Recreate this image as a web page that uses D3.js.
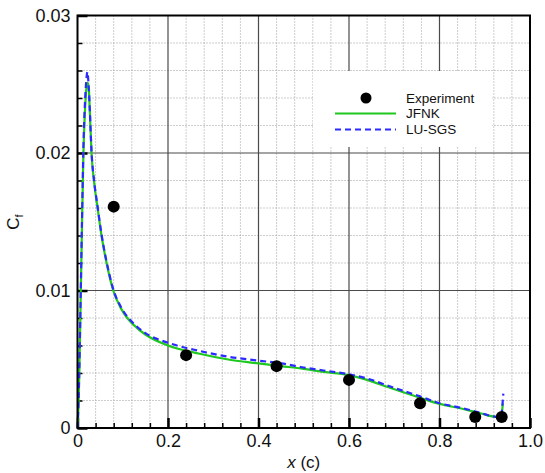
<!DOCTYPE html>
<html>
<head>
<meta charset="utf-8">
<script src="https://cdn.jsdelivr.net/npm/d3@7"></script>
<style>
  html, body { margin: 0; padding: 0; background: #fff; }
  svg { display: block; font-family: "Liberation Sans", Arial, sans-serif; }
</style>
</head>
<body>
<svg id="chart" width="545" height="473"></svg>
<script>
// Skin-friction coefficient along the chord
const expX = [0.08, 0.24, 0.44, 0.60, 0.757, 0.879, 0.9375];
const expCf = [0.0161, 0.0053, 0.0045, 0.0035, 0.0018, 0.0008, 0.0008];

const jfnkX = [0, 0.002, 0.004, 0.007, 0.010, 0.013, 0.017, 0.020, 0.0225, 0.025, 0.027, 0.031, 0.037, 0.044, 0.053, 0.063, 0.079, 0.096, 0.11, 0.124, 0.15, 0.2, 0.27, 0.33, 0.4, 0.45, 0.5, 0.54, 0.6, 0.64, 0.684, 0.72, 0.757, 0.8, 0.85, 0.89, 0.926, 0.936, 0.938, 0.940];
const jfnkCf = [0, 0.0015, 0.0040, 0.0093, 0.0148, 0.0198, 0.0234, 0.0248, 0.0251, 0.0247, 0.0232, 0.0200, 0.0178, 0.0161, 0.0140, 0.0122, 0.0100, 0.0087, 0.0080, 0.0075, 0.0068, 0.0060, 0.0054, 0.0050, 0.0047, 0.0045, 0.0043, 0.0041, 0.00385, 0.0035, 0.0030, 0.0026, 0.0022, 0.00175, 0.0014, 0.00107, 0.0008, 0.00078, 0.0011, 0.0018];

const lusgsX = [0, 0.002, 0.004, 0.007, 0.010, 0.013, 0.017, 0.020, 0.022, 0.024, 0.027, 0.031, 0.037, 0.044, 0.053, 0.063, 0.079, 0.096, 0.11, 0.124, 0.15, 0.2, 0.27, 0.33, 0.4, 0.45, 0.5, 0.54, 0.6, 0.64, 0.684, 0.72, 0.757, 0.8, 0.85, 0.89, 0.926, 0.936, 0.938, 0.941];
const lusgsCf = [0, 0.0016, 0.0042, 0.0096, 0.0152, 0.0203, 0.0240, 0.0255, 0.0259, 0.0252, 0.0233, 0.0201, 0.0179, 0.0162, 0.0141, 0.0123, 0.0101, 0.0088, 0.0081, 0.0076, 0.0069, 0.0062, 0.0056, 0.0052, 0.0049, 0.0047, 0.0044, 0.0042, 0.0039, 0.0036, 0.0031, 0.0027, 0.0023, 0.0018, 0.00145, 0.0011, 0.0008, 0.00078, 0.0013, 0.0025];

const xMajor = [0, 0.2, 0.4, 0.6, 0.8, 1.0];
const xMajorLabels = ["0", "0.2", "0.4", "0.6", "0.8", "1.0"];
const yMajor = [0, 0.01, 0.02, 0.03];
const yMajorLabels = ["0", "0.01", "0.02", "0.03"];
const xMinor = [0.04, 0.08, 0.12, 0.16, 0.24, 0.28, 0.32, 0.36, 0.44, 0.48, 0.52, 0.56, 0.64, 0.68, 0.72, 0.76, 0.84, 0.88, 0.92, 0.96];
const yMinor = [0.002, 0.004, 0.006, 0.008, 0.012, 0.014, 0.016, 0.018, 0.022, 0.024, 0.026, 0.028];

const legendItems = ["Experiment", "JFNK", "LU-SGS"];

const L = 77.5, R = 530, T = 15.5, B = 428;
const svg = d3.select("#chart");
const x = d3.scaleLinear().domain([0, 1]).range([L, R]);
const y = d3.scaleLinear().domain([0, 0.03]).range([B, T]);

const green = "#1ec81e", blue = "#2b2bff";

// minor grid (dotted)
const g = svg.append("g");
g.selectAll(".vminor").data(xMinor).join("line")
  .attr("x1", d => x(d)).attr("x2", d => x(d)).attr("y1", T).attr("y2", B)
  .attr("stroke", "#9a9a9a").attr("stroke-width", 1).attr("stroke-dasharray", "1,2");
g.selectAll(".hminor").data(yMinor).join("line")
  .attr("y1", d => y(d)).attr("y2", d => y(d)).attr("x1", L).attr("x2", R)
  .attr("stroke", "#9a9a9a").attr("stroke-width", 1).attr("stroke-dasharray", "1,2");

// major grid (solid)
g.selectAll(".vmajor").data(xMajor.slice(1, -1)).join("line")
  .attr("x1", d => x(d)).attr("x2", d => x(d)).attr("y1", T).attr("y2", B)
  .attr("stroke", "#4a4a4a").attr("stroke-width", 1.2);
g.selectAll(".hmajor").data(yMajor.slice(1, -1)).join("line")
  .attr("y1", d => y(d)).attr("y2", d => y(d)).attr("x1", L).attr("x2", R)
  .attr("stroke", "#4a4a4a").attr("stroke-width", 1.2);

// legend background hides the grid behind it
svg.append("rect").attr("x", 313).attr("y", 71).attr("width", 179).attr("height", 76).attr("fill", "#fff");

// axes: inward ticks on bottom and left
const xAxisMinor = d3.axisBottom(x).tickValues(xMinor).tickSize(-5).tickFormat("");
const xAxisMajor = d3.axisBottom(x).tickValues(xMajor).tickSize(-10).tickPadding(6)
  .tickFormat((d, i) => xMajorLabels[i]);
const yAxisMinor = d3.axisLeft(y).tickValues(yMinor).tickSize(-5).tickFormat("");
const yAxisMajor = d3.axisLeft(y).tickValues(yMajor).tickSize(-10).tickPadding(7)
  .tickFormat((d, i) => yMajorLabels[i]);

function styleAxis(sel, w) {
  sel.select(".domain").remove();
  sel.selectAll(".tick line").attr("stroke", "#000").attr("stroke-width", w);
  sel.selectAll("text").attr("fill", "#111").attr("font-size", 18)
    .attr("font-family", "Liberation Sans, Arial, sans-serif");
}
svg.append("g").attr("transform", `translate(0,${B})`).call(xAxisMinor).call(s => styleAxis(s, 1.5));
svg.append("g").attr("transform", `translate(0,${B})`).call(xAxisMajor).call(s => styleAxis(s, 2.5));
svg.append("g").attr("transform", `translate(${L},0)`).call(yAxisMinor).call(s => styleAxis(s, 1.5));
svg.append("g").attr("transform", `translate(${L},0)`).call(yAxisMajor).call(s => styleAxis(s, 2.5));

// curves
const line = d3.line().x(d => x(d[0])).y(d => y(d[1])).curve(d3.curveMonotoneX);
svg.append("path").datum(jfnkX.map((v, i) => [v, jfnkCf[i]]))
  .attr("d", line).attr("fill", "none").attr("stroke", green).attr("stroke-width", 2.2);
svg.append("path").datum(lusgsX.map((v, i) => [v, lusgsCf[i]]))
  .attr("d", line).attr("fill", "none").attr("stroke", blue).attr("stroke-width", 2.2)
  .attr("stroke-dasharray", "6,4");

// experimental points
svg.selectAll(".exp").data(expX).join("circle")
  .attr("cx", d => x(d)).attr("cy", (d, i) => y(expCf[i])).attr("r", 6).attr("fill", "#000");

// frame
svg.append("rect").attr("x", L).attr("y", T).attr("width", R - L).attr("height", B - T)
  .attr("fill", "none").attr("stroke", "#000").attr("stroke-width", 2);

// legend
const lg = svg.append("g").attr("font-size", 13.5).attr("fill", "#111");
lg.append("circle").attr("cx", 366).attr("cy", 98).attr("r", 5.5).attr("fill", "#000");
lg.append("line").attr("x1", 335).attr("x2", 396).attr("y1", 113.5).attr("y2", 113.5)
  .attr("stroke", green).attr("stroke-width", 2.2);
lg.append("line").attr("x1", 335).attr("x2", 396).attr("y1", 129.5).attr("y2", 129.5)
  .attr("stroke", blue).attr("stroke-width", 2.2).attr("stroke-dasharray", "6,4");
lg.selectAll("text").data(legendItems).join("text")
  .attr("x", 406).attr("y", (d, i) => 98 + i * 15.7).attr("dy", "0.35em").text(d => d);

// axis titles
const xt = svg.append("text").attr("x", (L + R) / 2).attr("y", 468).attr("text-anchor", "middle")
  .attr("font-size", 17).attr("fill", "#111");
xt.append("tspan").attr("font-style", "italic").text("x");
xt.append("tspan").text(" (c)");

const yt = svg.append("text").attr("transform", "translate(19,222) rotate(-90)")
  .attr("text-anchor", "middle").attr("font-size", 17).attr("fill", "#111");
yt.append("tspan").text("C");
yt.append("tspan").attr("font-size", 11).attr("dy", 4).text("f");
</script>
</body>
</html>
